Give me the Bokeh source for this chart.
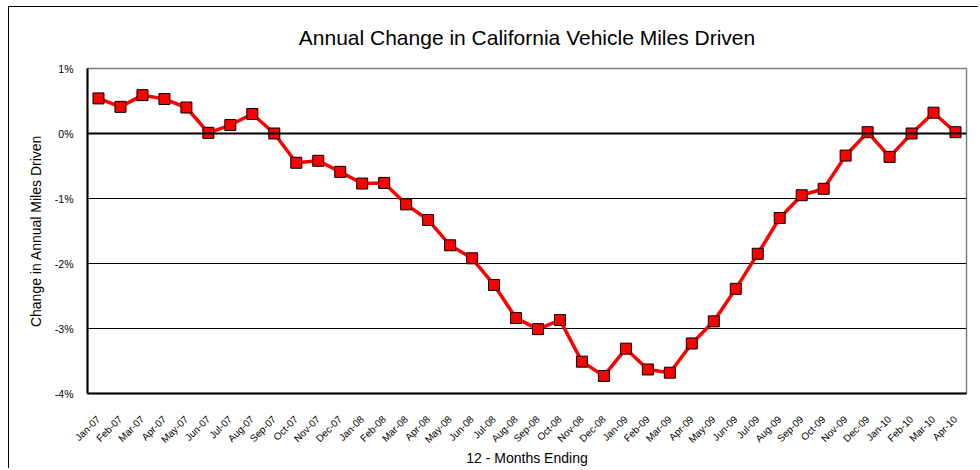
from bokeh.plotting import figure
from bokeh.models import FactorRange, Range1d, FixedTicker, PrintfTickFormatter, Span, ColumnDataSource
from bokeh.embed import file_html
from bokeh.resources import INLINE
import math

months = ["Jan-07", "Feb-07", "Mar-07", "Apr-07", "May-07", "Jun-07", "Jul-07", "Aug-07",
          "Sep-07", "Oct-07", "Nov-07", "Dec-07", "Jan-08", "Feb-08", "Mar-08", "Apr-08",
          "May-08", "Jun-08", "Jul-08", "Aug-08", "Sep-08", "Oct-08", "Nov-08", "Dec-08",
          "Jan-09", "Feb-09", "Mar-09", "Apr-09", "May-09", "Jun-09", "Jul-09", "Aug-09",
          "Sep-09", "Oct-09", "Nov-09", "Dec-09", "Jan-10", "Feb-10", "Mar-10", "Apr-10"]
change_pct = [0.54, 0.41, 0.59, 0.53, 0.40, 0.01, 0.13, 0.30,
              0.00, -0.45, -0.42, -0.59, -0.77, -0.76, -1.09, -1.33,
              -1.72, -1.92, -2.33, -2.84, -3.01, -2.87, -3.51, -3.73,
              -3.31, -3.63, -3.68, -3.23, -2.89, -2.39, -1.85, -1.30,
              -0.95, -0.85, -0.34, 0.02, -0.36, 0.00, 0.32, 0.02]
y_ticks = [-4, -3, -2, -1, 0, 1]

FONT = "Liberation Sans"

src = ColumnDataSource(dict(month=months, change=change_pct))

p = figure(width=970, height=462, output_backend="svg", toolbar_location=None,
           x_range=FactorRange(factors=months, range_padding=0),
           y_range=Range1d(-4, 1),
           title="Annual Change in California Vehicle Miles Driven",
           min_border_left=78, min_border_right=13, min_border_top=60, min_border_bottom=76)

p.styles = {"margin-left": "8px", "margin-top": "6px",
            "border-left": "1px solid black", "border-top": "1px solid black"}

p.title.align = "center"
p.title.vertical_align = "top"
p.title.text_font = FONT
p.title.text_font_size = "21px"
p.title.text_font_style = "normal"
p.title.text_color = "black"
p.title.standoff = 36

p.outline_line_color = "#808080"
p.outline_line_width = 1.5

# Y axis
p.yaxis.ticker = FixedTicker(ticks=y_ticks)
p.yaxis.formatter = PrintfTickFormatter(format="%d%%")
p.yaxis.axis_label = "Change in Annual Miles Driven"
p.yaxis.axis_label_text_font = FONT
p.yaxis.axis_label_text_font_size = "14px"
p.yaxis.axis_label_text_font_style = "normal"
p.yaxis.axis_label_text_color = "black"
p.yaxis.axis_label_standoff = 8
p.yaxis.major_label_text_font = FONT
p.yaxis.major_label_text_font_size = "10.5px"
p.yaxis.major_label_text_color = "black"
p.yaxis.major_label_standoff = 14
p.yaxis.major_tick_out = 0
p.yaxis.major_tick_in = 0
p.yaxis.minor_tick_out = 0
p.yaxis.minor_tick_in = 0
p.yaxis.axis_line_width = 2
p.yaxis.axis_line_color = "black"

# X axis
p.xaxis.axis_label = "12 - Months Ending"
p.xaxis.axis_label_text_font = FONT
p.xaxis.axis_label_text_font_size = "14px"
p.xaxis.axis_label_text_font_style = "normal"
p.xaxis.axis_label_text_color = "black"
p.xaxis.axis_label_standoff = -2
p.xaxis.major_label_orientation = math.pi / 4
p.xaxis.major_label_text_font = FONT
p.xaxis.major_label_text_font_size = "10px"
p.xaxis.major_label_text_color = "black"
p.xaxis.major_label_standoff = 24
p.xaxis.major_tick_out = 0
p.xaxis.major_tick_in = 0
p.xaxis.axis_line_width = 2
p.xaxis.axis_line_color = "black"

p.xgrid.grid_line_color = None
p.ygrid.ticker = FixedTicker(ticks=y_ticks)
p.ygrid.grid_line_color = "black"
p.ygrid.grid_line_width = 1

p.add_layout(Span(location=0, dimension="width", line_color="black", line_width=2))

p.line("month", "change", source=src, line_color="#ff0000", line_width=3.5)
p.scatter("month", "change", source=src, marker="square", size=11,
          fill_color="#ff0000", line_color="black", line_width=1)

open("out.html", "w").write(file_html(p, INLINE))
